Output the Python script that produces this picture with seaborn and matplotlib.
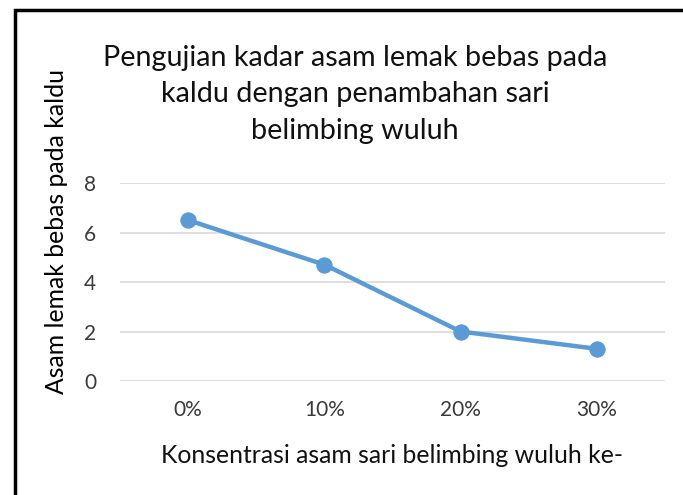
import matplotlib
matplotlib.use('Agg')
import matplotlib.pyplot as plt
import seaborn as sns
import pandas as pd
from matplotlib.patches import Rectangle

sns.set_theme(style="white")
plt.rcParams['font.family'] = ['Lato', 'DejaVu Sans']

# Data
konsentrasi = ['0%', '10%', '20%', '30%']
asam_lemak = [6.5, 4.7, 2.0, 1.3]
y_ticks = [0, 2, 4, 6, 8]

df = pd.DataFrame({'konsentrasi': konsentrasi, 'asam': asam_lemak})

fig = plt.figure(figsize=(6.83, 4.95), dpi=100)
ax = fig.add_axes([0.1757, 0.2303, 0.7979, 0.4000])

sns.lineplot(data=df, x='konsentrasi', y='asam', ax=ax, sort=False,
             color='#5B9BD5', linewidth=3.2, marker='o', markersize=11,
             markeredgecolor='#5B9BD5')

ax.set_xlim(-0.5, len(konsentrasi) - 0.5)
ax.set_ylim(0, 8)
ax.set_yticks(y_ticks)
ax.yaxis.grid(True, color='#D9D9D9', linewidth=1.2)
ax.set_axisbelow(True)
for s in ax.spines.values():
    s.set_visible(False)
ax.tick_params(axis='both', length=0, labelsize=15, colors='#3a3a3a')
ax.tick_params(axis='x', pad=14)
ax.tick_params(axis='y', pad=17)
ax.set_xlabel('')
ax.set_ylabel('')

fig.text(0.52, 0.81, 'Pengujian kadar asam lemak bebas pada\nkaldu dengan penambahan sari\nbelimbing wuluh',
         ha='center', va='center', fontsize=20.7, color='#111111', linespacing=1.5)
fig.text(0.574, 0.08, 'Konsentrasi asam sari belimbing wuluh ke-',
         ha='center', va='center', fontsize=17.8, color='#111111')
fig.text(0.083, 0.533, 'Asam lemak bebas pada kaldu', rotation=90,
         ha='center', va='center', fontsize=17.8, color='#000000')

# outer frame
fig.patches.append(Rectangle((15 / 683, -0.02), 1.0, 1 - 10 / 495 + 0.02,
                             transform=fig.transFigure, fill=False,
                             edgecolor='black', linewidth=2.5))

fig.savefig('out.png', dpi=100)
